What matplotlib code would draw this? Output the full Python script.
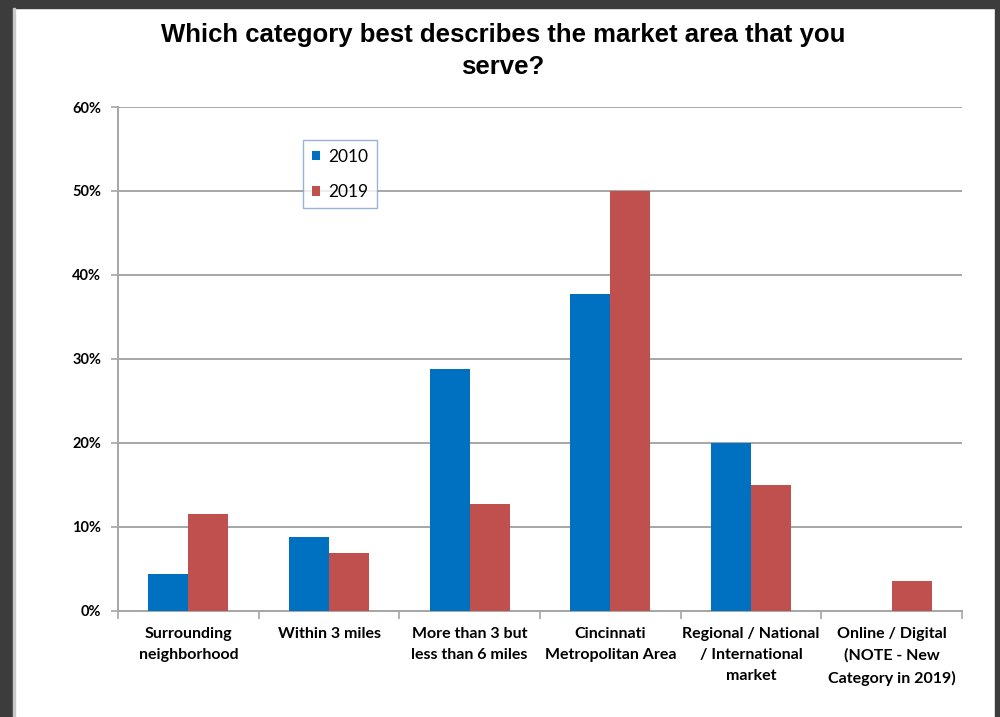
import numpy as np
import matplotlib
matplotlib.use('Agg')
import matplotlib.pyplot as plt
from matplotlib.patches import Rectangle

# данные
categories = ['Surrounding\nneighborhood', 'Within 3 miles',
              'More than 3 but\nless than 6 miles', 'Cincinnati\nMetropolitan Area',
              'Regional / National\n/ International\nmarket',
              'Online / Digital\n(NOTE - New\nCategory in 2019)']
vals_2010 = [4.4, 8.8, 28.8, 37.7, 20.0, 0.0]
vals_2019 = [11.5, 6.9, 12.7, 50.0, 15.0, 3.6]
yticks = [0, 10, 20, 30, 40, 50, 60]

BLUE = '#0070c0'
RED = '#c0504d'
GRID = '#a6a6a6'

fig = plt.figure(figsize=(10, 7.17), dpi=100)

# рамка скриншота
fig.patches.append(Rectangle((0, 0), 0.013, 1, transform=fig.transFigure,
                             color='#3c3c3c', zorder=0))
fig.patches.append(Rectangle((0, 1 - 8 / 717), 1, 8 / 717, transform=fig.transFigure,
                             color='#3c3c3c', zorder=0))
fig.patches.append(Rectangle((0.995, 0), 0.005, 1, transform=fig.transFigure,
                             color='#3c3c3c', zorder=0))
fig.patches.append(Rectangle((0.013, 0), 0.002, 1 - 8 / 717, transform=fig.transFigure,
                             color='#c8c8c8', zorder=0))

ax = fig.add_axes([0.118, 1 - 611 / 717, 0.844, (611 - 107) / 717])

x = np.arange(len(categories))
w = 0.284
ax.bar(x - w / 2, vals_2010, w, color=BLUE, label='2010', zorder=3)
ax.bar(x + w / 2, vals_2019, w, color=RED, label='2019', zorder=3)

ax.set_xlim(-0.5, len(categories) - 0.5)
ax.set_ylim(0, 60)
ax.set_yticks(yticks)
ax.set_yticklabels([f'{v}%' for v in yticks], fontfamily='Lato',
                   fontweight='bold', fontsize=10.5)
ax.yaxis.grid(True, color=GRID, linewidth=1.4, zorder=0)

# деления между категориями
ax.set_xticks(np.arange(len(categories) + 1) - 0.5)
ax.set_xticklabels([])
ax.tick_params(axis='x', length=6, color=GRID, width=1.2)
ax.tick_params(axis='y', length=5, color=GRID, width=1.2, pad=7)
for i, c in enumerate(categories):
    ax.text(i, -1.9, c, ha='center', va='top', fontfamily='Lato',
            fontweight='bold', fontsize=11.5, linespacing=1.65)

for s in ['top', 'right']:
    ax.spines[s].set_visible(False)
ax.spines['left'].set_color(GRID)
ax.spines['left'].set_linewidth(1.4)
ax.spines['bottom'].set_color(GRID)
ax.spines['bottom'].set_linewidth(1.4)

leg = ax.legend(loc='upper left', bbox_to_anchor=(0.219, 0.9345), borderaxespad=0,
                prop={'family': 'Lato', 'size': 12.5}, handlelength=0.5,
                handleheight=0.5, handletextpad=0.45, labelspacing=1.1,
                fancybox=False, borderpad=0.5)
leg.get_frame().set_edgecolor('#7f9fd3')
leg.get_frame().set_linewidth(1.0)

fig.text(0.503, 1 - 51 / 717, 'Which category best describes the market area that you\nserve?',
         ha='center', va='center', fontfamily='Liberation Sans', fontweight='bold',
         fontsize=18.5, linespacing=1.42)

fig.savefig('out.png', dpi=100)
